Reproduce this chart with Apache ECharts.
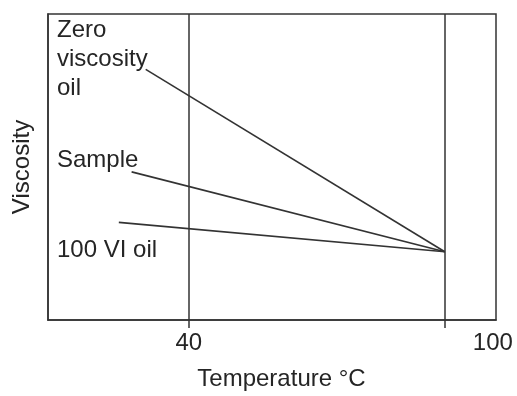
<!DOCTYPE html>
<html>
<head>
<meta charset="utf-8">
<script src="https://cdn.jsdelivr.net/npm/echarts@6/dist/echarts.min.js"></script>
<style>html,body{margin:0;padding:0;background:#fff;}#c{width:517px;height:396px;}</style>
</head>
<body>
<div id="c"></div>
<script>
// Data (temperature in °C, viscosity in arbitrary relative units)
var tickValues = [40, 100];
var tickLabels = ['40', '100'];
var zeroViscTemp = [29.9, 100];
var zeroViscVal = [81.9, 22.3];
var sampleTemp = [26.6, 100];
var sampleVal = [48.4, 22.3];
var vi100Temp = [23.6, 100];
var vi100Val = [31.9, 22.3];
var seriesNames = ['Zero viscosity oil', 'Sample', '100 VI oil'];

function pairs(xs, ys) { return xs.map(function (x, i) { return [x, ys[i]]; }); }

var FONT = 'Liberation Sans, Arial, sans-serif';
var FS = 24;
var TXT = '#252525';
var LINE = '#333';

var chart = echarts.init(document.getElementById('c'), null, {renderer: 'canvas'});
var lineStyle = {color: LINE, width: 1.6};
var option = {
  animation: false,
  grid: {left: 48, right: 21, top: 14, bottom: 72, show: true, borderColor: LINE, borderWidth: 1.5, backgroundColor: 'transparent'},
  xAxis: {
    type: 'value', min: 7, max: 112,
    axisLine: {show: true, lineStyle: {color: LINE, width: 1.5}},
    axisTick: {show: true, customValues: tickValues, length: 8, lineStyle: {color: LINE, width: 1.5}},
    axisLabel: {
      show: true, customValues: tickValues, margin: 11,
      formatter: function (v) {
        var i = tickValues.indexOf(v);
        var t = i >= 0 ? tickLabels[i] : '';
        return v === 100 ? '{r|' + t + '}' : '{n|' + t + '}';
      },
      rich: {
        n: {fontFamily: FONT, fontSize: FS, color: TXT},
        r: {fontFamily: FONT, fontSize: FS, color: TXT, padding: [0, 0, 0, 96]}
      }
    },
    splitLine: {show: false},
    name: 'Temperature °C', nameLocation: 'middle', nameGap: 47,
    nameTextStyle: {fontFamily: FONT, fontSize: FS, color: TXT, padding: [0, 0, 0, 19]}
  },
  yAxis: {
    type: 'value', min: 0, max: 100,
    axisLine: {show: true, lineStyle: {color: LINE, width: 1.5}},
    axisTick: {show: false}, axisLabel: {show: false}, splitLine: {show: false},
    name: 'Viscosity', nameLocation: 'middle', nameGap: 14, nameRotate: 90,
    nameTextStyle: {fontFamily: FONT, fontSize: FS, color: TXT}
  },
  graphic: [
    {type: 'text', left: 57, top: 16, style: {text: 'Zero\nviscosity\noil', font: FS + 'px ' + FONT, fill: TXT, lineHeight: 29}},
    {type: 'text', left: 57, top: 148, style: {text: 'Sample', font: FS + 'px ' + FONT, fill: TXT}},
    {type: 'text', left: 57, top: 238, style: {text: '100 VI oil', font: FS + 'px ' + FONT, fill: TXT}}
  ],
  series: [
    {name: seriesNames[0], type: 'line', data: pairs(zeroViscTemp, zeroViscVal), symbol: 'none', lineStyle: lineStyle,
     markLine: {silent: true, symbol: ['none', 'none'], label: {show: false}, lineStyle: {color: LINE, width: 1.5, type: 'solid'},
       data: tickValues.map(function (v) { return {xAxis: v}; })}},
    {name: seriesNames[1], type: 'line', data: pairs(sampleTemp, sampleVal), symbol: 'none', lineStyle: lineStyle},
    {name: seriesNames[2], type: 'line', data: pairs(vi100Temp, vi100Val), symbol: 'none', lineStyle: lineStyle}
  ]
};
chart.setOption(option);
</script>
</body>
</html>
